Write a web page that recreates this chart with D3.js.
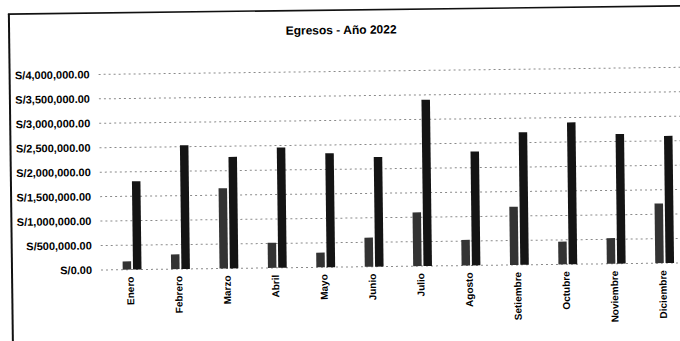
<!DOCTYPE html>
<html>
<head>
<meta charset="utf-8">
<script src="https://cdn.jsdelivr.net/npm/d3@7"></script>
<style>
  html, body { margin: 0; padding: 0; background: #fff; }
  svg { display: block; }
  text { font-family: "Liberation Sans", Arial, sans-serif; fill: #000; }
</style>
</head>
<body>
<svg id="chart" width="680" height="341"></svg>
<script>
const title = "Egresos - Año 2022";
const months = ["Enero","Febrero","Marzo","Abril","Mayo","Junio","Julio","Agosto","Setiembre","Octubre","Noviembre","Diciembre"];
const serie1 = [170000, 300000, 1640000, 515000, 300000, 595000, 1100000, 525000, 1190000, 465000, 525000, 1220000];
const serie2 = [1805000, 2530000, 2280000, 2460000, 2330000, 2240000, 3400000, 2330000, 2710000, 2900000, 2650000, 2600000];
const yTicks = [0, 500000, 1000000, 1500000, 2000000, 2500000, 3000000, 3500000, 4000000];

const svg = d3.select("#chart");
svg.append("rect").attr("width", 680).attr("height", 341).attr("fill", "#fff");

// whole scanned sheet is slightly tilted
const g = svg.append("g").attr("transform", "rotate(-0.7,100,270)");

const x = d3.scaleBand().domain(months).range([108, 689]).paddingInner(0).paddingOuter(0);
const y = d3.scaleLinear().domain([0, 4000000]).range([270, 74.4]);
const fmt = v => "S/" + d3.format(",.2f")(v);

// frame
g.append("line").attr("x1", 12).attr("x2", 12).attr("y1", 13).attr("y2", 350)
  .attr("stroke", "#111").attr("stroke-width", 2);
g.append("line").attr("x1", 11).attr("x2", 700).attr("y1", 13).attr("y2", 13)
  .attr("stroke", "#111").attr("stroke-width", 1.6);

// title
g.append("text").attr("x", 344).attr("y", 37).attr("text-anchor", "middle")
  .attr("font-size", 12).attr("font-weight", "bold").text(title);

// gridlines
g.append("g").selectAll("line").data(yTicks).join("line")
  .attr("x1", 101).attr("x2", 700)
  .attr("y1", d => y(d)).attr("y2", d => y(d))
  .attr("stroke", "#8a8a8a").attr("stroke-width", 1)
  .attr("stroke-dasharray", "2,3");

// y axis labels
g.append("g").selectAll("text").data(yTicks).join("text")
  .attr("x", 92).attr("y", d => y(d)).attr("dy", "0.35em")
  .attr("text-anchor", "end").attr("font-size", 11).attr("font-weight", "bold")
  .text(fmt);

// bars
const bw = 8.5;
g.append("g").selectAll("rect").data(months).join("rect")
  .attr("x", d => x(d) + x.bandwidth() / 2 - 9.5)
  .attr("width", bw)
  .attr("y", (d, i) => y(serie1[i]))
  .attr("height", (d, i) => y(0) - y(serie1[i]))
  .attr("fill", "#333333");
g.append("g").selectAll("rect").data(months).join("rect")
  .attr("x", d => x(d) + x.bandwidth() / 2 + 0.8)
  .attr("width", bw)
  .attr("y", (d, i) => y(serie2[i]))
  .attr("height", (d, i) => y(0) - y(serie2[i]))
  .attr("fill", "#141414");

// x labels
g.append("g").selectAll("text").data(months).join("text")
  .attr("transform", d => `translate(${x(d) + x.bandwidth() / 2 - 2},277) rotate(-90)`)
  .attr("text-anchor", "end").attr("dy", "0.35em")
  .attr("font-size", 10).attr("font-weight", "bold")
  .text(d => d);
</script>
</body>
</html>
